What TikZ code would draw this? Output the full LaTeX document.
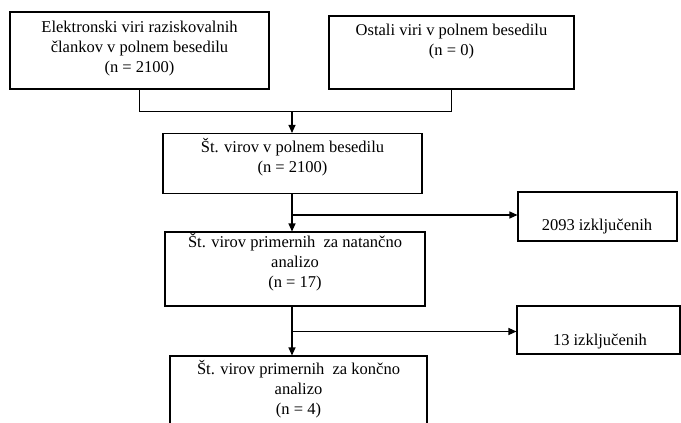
\documentclass[tikz,border=0pt]{standalone}
\usepackage{fontspec}
\setmainfont{Liberation Serif}
\usetikzlibrary{arrows.meta}
\newcommand{\fl}{\rule{0pt}{16pt}}
\begin{document}
\begin{tikzpicture}[x=1pt,y=-1pt,
  box/.style={draw, line width=1.1pt, inner sep=0pt},
  txt/.style={align=center, inner sep=0pt, font=\fontsize{16.5}{20}\selectfont},
  conn/.style={line width=1.1pt},
  arr/.style={conn, -{Triangle[length=8pt,width=7pt]}}]
\clip (0,0) rectangle (681,423);
\fill[white] (0,0) rectangle (681,423);
% boxes
\node[box, minimum width=259pt, minimum height=77pt] (b1) at (139.5,50.5) {};
\node[box, minimum width=245pt, minimum height=73pt] (b2) at (451.5,52.5) {};
\node[box, minimum width=259pt, minimum height=60pt] (b3) at (292.5,163.5) {};
\node[box, minimum width=159pt, minimum height=49pt] (x1) at (597.5,216.5) {};
\node[box, minimum width=260pt, minimum height=74pt] (b4) at (295,269) {};
\node[box, minimum width=163pt, minimum height=48pt] (x2) at (598.5,330) {};
\node[box, minimum width=257pt, minimum height=90pt] (b5) at (298.5,401) {};
% texts
\node[txt, anchor=north] (t1) at ([yshift=-5pt]b1.north) {\fl Elektronski viri raziskovalnih\\člankov v polnem besedilu\\(n = 2100)};
\node[txt, anchor=north] (t2) at ([yshift=-4pt]b2.north) {\fl Ostali viri v polnem besedilu\\(n = 0)};
\node[txt, anchor=north] (t3) at ([yshift=-3.5pt]b3.north) {\fl Št. virov v polnem besedilu\\(n = 2100)};
\node[txt, anchor=north] (t4) at ([yshift=0pt]b4.north) {\fl Št. virov primernih\ \ za natančno\\analizo\\(n = 17)};
\node[txt, anchor=north] (t5) at ([yshift=-3pt]b5.north) {\fl Št. virov primernih\ \ za končno\\analizo\\(n = 4)};
\node[txt, anchor=base] (tx1) at (597,230) {2093 izključenih};
\node[txt, anchor=base] (tx2) at (600,345) {13 izključenih};
% connectors
\coordinate (j1) at (292,111.5);
\draw[conn] (b1.south) -- (b1.south |- j1) -| (b2.south);
\draw[arr] (j1) -- (j1 |- b3.north);
\coordinate (j2) at (292,215);
\draw[arr] (j1 |- b3.south) -- (j1 |- b4.north);
\draw[arr] (j2) -- (x1.west |- j2);
\coordinate (j3) at (292,331.5);
\draw[arr] (j1 |- b4.south) -- (j1 |- b5.north);
\draw[arr] (j3) -- (x2.west |- j3);
\end{tikzpicture}
\end{document}
